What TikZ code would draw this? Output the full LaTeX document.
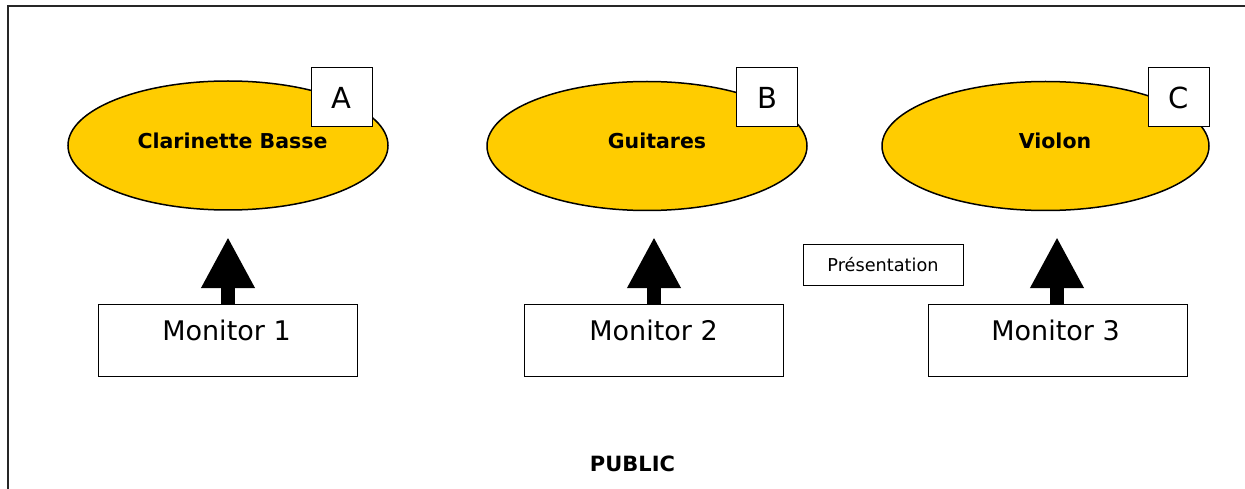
\documentclass[tikz,border=0pt]{standalone}
\usepackage{fontspec}
\setmainfont{DejaVu Sans}
\usetikzlibrary{shapes.geometric,arrows.meta}
\definecolor{instr}{HTML}{FFCC00}
\tikzset{
  instrument/.style={ellipse,draw=black,line width=1.5pt,fill=instr,minimum width=320pt,minimum height=129pt,inner sep=0pt},
  instrtext/.style={font=\fontsize{20.5pt}{24pt}\selectfont\bfseries,anchor=base,inner sep=0pt},
  letterbox/.style={rectangle,draw=black,line width=1pt,fill=white,minimum width=61pt,minimum height=59pt,inner sep=0pt,font=\fontsize{29pt}{34pt}\selectfont},
  monitorbox/.style={rectangle,draw=black,line width=1pt,fill=white,minimum width=259pt,minimum height=72pt,inner sep=0pt},
  montext/.style={font=\fontsize{27pt}{32pt}\selectfont,anchor=base,inner sep=0pt},
  bigarrow/.style={line width=14pt,-{Triangle[width=50pt,length=51pt]}},
  smallbox/.style={rectangle,draw=black,line width=1pt,fill=white,minimum width=160pt,minimum height=40pt,inner sep=0pt,font=\fontsize{17.7pt}{21pt}\selectfont},
}
\begin{document}
\begin{tikzpicture}[x=1pt,y=-1pt]
\useasboundingbox (0,0) rectangle (1245,489);
\fill[white] (0,0) rectangle (1245,489);
% frame
\draw[line width=2pt,draw=black!85] (8,489) -- (8,6) -- (1245,6);
% instruments
\node[instrument] (ea) at (228,145.5) {};
\node[instrument] (eb) at (647,146) {};
\node[instrument,minimum width=327pt] (ec) at (1045.5,146) {};
\node[instrtext] (ta) at (232.5,148.5) {Clarinette Basse};
\node[instrtext] (tb) at (657,148.5) {Guitares};
\node[instrtext] (tc) at (1055,148.5) {Violon};
% letters
\node[letterbox] (la) at (341.5,97.5) {A};
\node[letterbox] (lb) at (767,97.5) {B};
\node[letterbox] (lc) at (1178.5,97.5) {C};
% monitors
\node[monitorbox] (m1) at (227.5,340) {};
\node[monitorbox] (m2) at (654,340) {};
\node[monitorbox] (m3) at (1057.5,340) {};
\node[montext] at (226.5,340) {Monitor 1};
\node[montext] at (653.5,340) {Monitor 2};
\node[montext] at (1055.5,340) {Monitor 3};
% arrows
\coordinate (t1) at (228,237);
\coordinate (t2) at (654,237);
\coordinate (t3) at (1057,237);
\draw[bigarrow] (m1.north -| t1) -- (t1);
\draw[bigarrow] (m2.north -| t2) -- (t2);
\draw[bigarrow] (m3.north -| t3) -- (t3);
% presentation
\node[smallbox] (pres) at (883,265) {Présentation};
% public
\node[font=\fontsize{21pt}{25pt}\selectfont\bfseries,anchor=base,inner sep=0pt] (pub) at (632.5,471) {PUBLIC};
\end{tikzpicture}
\end{document}
